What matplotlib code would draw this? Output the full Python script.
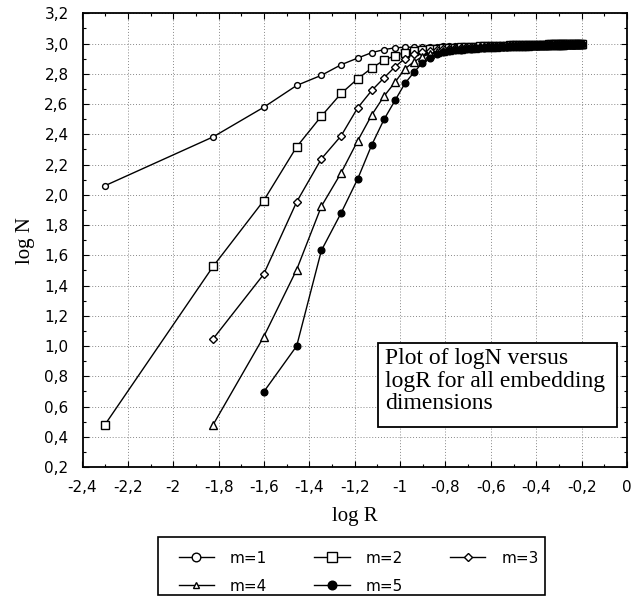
import matplotlib
matplotlib.use("Agg")
import matplotlib.pyplot as plt
from matplotlib.ticker import MultipleLocator, FuncFormatter
from matplotlib.lines import Line2D
from matplotlib.patches import Rectangle

# log R positions (shared by all series)
log_r = [-2.301, -1.824, -1.602, -1.456, -1.347, -1.260, -1.187, -1.125, -1.071, -1.022,
         -0.979, -0.939, -0.903, -0.870, -0.839, -0.810, -0.783, -0.757, -0.733, -0.710,
         -0.688, -0.668, -0.648, -0.629, -0.611, -0.593, -0.577, -0.561, -0.545, -0.530,
         -0.516, -0.502, -0.488, -0.475, -0.462, -0.450, -0.438, -0.426, -0.415, -0.403,
         -0.392, -0.382, -0.372, -0.361, -0.352, -0.342, -0.333, -0.323, -0.314, -0.305,
         -0.297, -0.288, -0.280, -0.272, -0.264, -0.256, -0.248, -0.240, -0.233, -0.225,
         -0.218, -0.211, -0.204, -0.197]

logn_m1 = [2.060, 2.383, 2.578, 2.723, 2.790, 2.860, 2.904, 2.940, 2.960, 2.972,
           2.975, 2.977, 2.978, 2.979, 2.980, 2.981, 2.982, 2.983, 2.984, 2.985,
           2.986, 2.986, 2.987, 2.987, 2.988, 2.988, 2.989, 2.989, 2.990, 2.990,
           2.990, 2.991, 2.991, 2.991, 2.992, 2.992, 2.992, 2.993, 2.993, 2.993,
           2.993, 2.994, 2.994, 2.994, 2.994, 2.995, 2.995, 2.995, 2.995, 2.995,
           2.996, 2.996, 2.996, 2.996, 2.996, 2.997, 2.997, 2.997, 2.997, 2.997,
           2.997, 2.998, 2.998, 2.998]

logn_m2 = [0.480, 1.527, 1.960, 2.317, 2.520, 2.670, 2.767, 2.838, 2.890, 2.920,
           2.940, 2.950, 2.956, 2.961, 2.965, 2.968, 2.971, 2.973, 2.975, 2.977,
           2.979, 2.980, 2.981, 2.982, 2.983, 2.984, 2.985, 2.986, 2.987, 2.987,
           2.988, 2.988, 2.989, 2.989, 2.990, 2.990, 2.991, 2.991, 2.991, 2.992,
           2.992, 2.992, 2.993, 2.993, 2.993, 2.994, 2.994, 2.994, 2.994, 2.995,
           2.995, 2.995, 2.995, 2.996, 2.996, 2.996, 2.996, 2.996, 2.997, 2.997,
           2.997, 2.997, 2.997, 2.998]

logn_m3 = [1.048, 1.473, 1.953, 2.238, 2.390, 2.575, 2.690, 2.773, 2.847,
           2.900, 2.932, 2.945, 2.953, 2.959, 2.963, 2.967, 2.970, 2.972, 2.974,
           2.976, 2.978, 2.979, 2.980, 2.981, 2.982, 2.983, 2.984, 2.985, 2.986,
           2.986, 2.987, 2.987, 2.988, 2.988, 2.989, 2.989, 2.990, 2.990, 2.991,
           2.991, 2.991, 2.992, 2.992, 2.992, 2.993, 2.993, 2.993, 2.994, 2.994,
           2.994, 2.994, 2.995, 2.995, 2.995, 2.995, 2.996, 2.996, 2.996, 2.996,
           2.997, 2.997, 2.997, 2.997]

logn_m4 = [0.480, 1.059, 1.505, 1.924, 2.145, 2.357, 2.528, 2.652, 2.745,
           2.833, 2.880, 2.912, 2.932, 2.944, 2.952, 2.958, 2.962, 2.966, 2.969,
           2.971, 2.973, 2.975, 2.977, 2.978, 2.979, 2.980, 2.981, 2.982, 2.983,
           2.984, 2.985, 2.985, 2.986, 2.986, 2.987, 2.987, 2.988, 2.988, 2.989,
           2.989, 2.990, 2.990, 2.990, 2.991, 2.991, 2.991, 2.992, 2.992, 2.992,
           2.993, 2.993, 2.993, 2.994, 2.994, 2.994, 2.994, 2.995, 2.995, 2.995,
           2.995, 2.996, 2.996, 2.996]

logn_m5 = [0.695, 1.000, 1.632, 1.880, 2.105, 2.330, 2.498, 2.625,
           2.736, 2.810, 2.870, 2.905, 2.928, 2.942, 2.950, 2.956, 2.960, 2.964,
           2.967, 2.969, 2.971, 2.973, 2.975, 2.976, 2.977, 2.978, 2.979, 2.980,
           2.981, 2.982, 2.983, 2.983, 2.984, 2.985, 2.985, 2.986, 2.986, 2.987,
           2.987, 2.988, 2.988, 2.989, 2.989, 2.989, 2.990, 2.990, 2.990, 2.991,
           2.991, 2.991, 2.992, 2.992, 2.992, 2.993, 2.993, 2.993, 2.993, 2.994,
           2.994, 2.994, 2.994, 2.995]

series_labels = ["m=1", "m=2", "m=3", "m=4", "m=5"]
series_values = [logn_m1, logn_m2, logn_m3, logn_m4, logn_m5]

annotation = "Plot of logN versus\nlogR for all embedding\ndimensions"

styles = [
    dict(marker="o", ms=4.2, mfc="white"),
    dict(marker="s", ms=6.3, mfc="white"),
    dict(marker="D", ms=3.6, mfc="white"),
    dict(marker="^", ms=5.2, mfc="white"),
    dict(marker="o", ms=4.8, mfc="black"),
]
legend_ms = [6.2, 6.5, 4.0, 5.0, 6.2]

W, H = 640, 598
fig = plt.figure(figsize=(W / 100, H / 100), dpi=100)
ax_l, ax_r, ax_t, ax_b = 82.5, 627, 13.3, 467
ax = fig.add_axes([ax_l / W, 1 - ax_b / H, (ax_r - ax_l) / W, (ax_b - ax_t) / H])

handles = []
for lab, vals, st, lms in zip(series_labels, series_values, styles, legend_ms):
    xs = log_r[len(log_r) - len(vals):]
    ax.plot(xs, vals, color="black", lw=1.0, mec="black", mew=1.0,
            clip_on=False, **st)
    hst = dict(st)
    hst["ms"] = lms
    handles.append(Line2D([], [], color="black", lw=1.0, mec="black", mew=1.0, **hst))

ax.set_xlim(-2.4, 0.0)
ax.set_ylim(0.2, 3.2)
ax.xaxis.set_major_locator(MultipleLocator(0.2))
ax.xaxis.set_minor_locator(MultipleLocator(0.1))
ax.yaxis.set_major_locator(MultipleLocator(0.2))
ax.yaxis.set_minor_locator(MultipleLocator(0.1))


def fmt_x(v, pos):
    s = f"{v:.1f}"
    if s.endswith(".0"):
        s = s[:-2]
    if s == "-0":
        s = "0"
    return s.replace(".", ",")


def fmt_y(v, pos):
    return f"{v:.1f}".replace(".", ",")


ax.xaxis.set_major_formatter(FuncFormatter(fmt_x))
ax.yaxis.set_major_formatter(FuncFormatter(fmt_y))

sans = "DejaVu Sans"
serif = "Liberation Serif"
ax.tick_params(which="both", direction="in", top=True, right=True, color="black")
ax.tick_params(which="major", length=4, width=0.8, labelsize=11)
ax.tick_params(which="minor", length=2.5, width=0.8)
ax.tick_params(axis="x", which="major", pad=9)
ax.tick_params(axis="y", which="major", pad=10)
for t in ax.get_xticklabels() + ax.get_yticklabels():
    t.set_fontfamily(sans)

ax.grid(True, which="major", color="#888888", linestyle=(0, (1, 2)), linewidth=0.7)
for s in ax.spines.values():
    s.set_linewidth(1.3)
    s.set_color("black")

ax.set_xlabel("log R", fontfamily=serif, fontsize=15, labelpad=9)
ax.set_ylabel("log N", fontfamily=serif, fontsize=15, labelpad=7)

# annotation box (pixel layout of figure)
fig.patches.append(Rectangle((378 / W, 1 - 427 / H), (617 - 378) / W, (427 - 343) / H,
                             transform=fig.transFigure, facecolor="white",
                             edgecolor="black", linewidth=1.3, zorder=5))
fig.text(385 / W, 1 - 348 / H, annotation, fontfamily=serif, fontsize=17,
         ha="left", va="top", linespacing=1.1, zorder=6)

# legend (frame drawn as its own rectangle)
order = [0, 3, 1, 4, 2]
leg = fig.legend([handles[i] for i in order], [series_labels[i] for i in order],
                 loc="upper left", bbox_to_anchor=(171 / W, 1 - 543 / H), ncol=3,
                 frameon=False, prop={"family": sans, "size": 11},
                 handlelength=2.3, columnspacing=3.1, handletextpad=1.05,
                 borderpad=0.0, labelspacing=0.85)
fig.patches.append(Rectangle((158 / W, 1 - 595 / H), (545 - 158) / W, (595 - 537) / H,
                             transform=fig.transFigure, facecolor="none",
                             edgecolor="black", linewidth=1.2))

fig.savefig("out.png", dpi=100)
